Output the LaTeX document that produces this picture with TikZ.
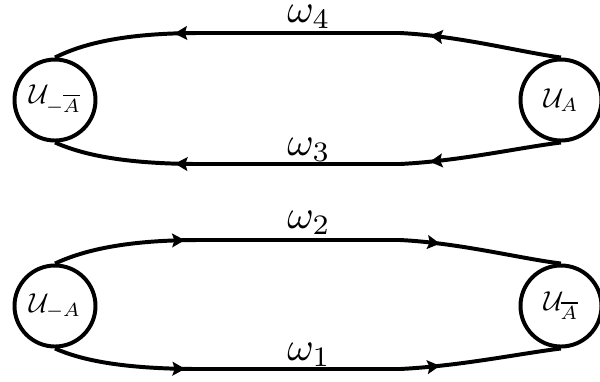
\documentclass[tikz,border=0pt]{standalone}
\usetikzlibrary{arrows.meta,decorations.markings}
\tikzset{
  ring/.style={circle,draw,line width=1.1pt,minimum size=22.5pt,inner sep=0pt},
  tipmark/.tip={Stealth[length=3.5pt,width=3.8pt,inset=0.6pt]},
  flow/.style={line width=1.1pt,postaction={decorate},
    decoration={markings,
      mark=at position 0.26 with {\arrow{tipmark}},
      mark=at position 0.76 with {\arrow{tipmark}}}},
  lbl/.style={inner sep=0pt}
}
\newcommand{\ringtext}[1]{\scalebox{0.76}{$#1$}}
\newcommand{\lbltext}[1]{\scalebox{1.12}{$#1$}}
\begin{document}
\begin{tikzpicture}[x=0.2778pt,y=-0.2778pt]
\useasboundingbox (0,0) rectangle (600,381);
\node[ring] (la) at (55,100) {\ringtext{\mathcal{U}_{-\overline{A}}}};
\node[ring] (ra) at (561,100) {\ringtext{\mathcal{U}_{A}}};
\node[ring] (lb) at (55,306) {\ringtext{\mathcal{U}_{-A}}};
\node[ring] (rb) at (561,306) {\ringtext{\mathcal{U}_{\overline{A}}}};

\draw[flow] (ra.north) .. controls (520,52) and (460,36) .. (400,33) -- (200,33) .. controls (120,33) and (80,45) .. (la.north);
\draw[flow] (ra.south) .. controls (520,147.5) and (460,161) .. (400,164) -- (200,164) .. controls (120,164) and (80,153.5) .. (la.south);
\draw[flow] (lb.north) .. controls (80,252) and (120,240) .. (200,240) -- (400,240) .. controls (460,243) and (520,258.5) .. (rb.north);
\draw[flow] (lb.south) .. controls (80,359.5) and (120,369) .. (200,369) -- (400,369) .. controls (460,366) and (520,353.5) .. (rb.south);

\node[lbl] (w4) at (309,17) {\lbltext{\omega_4}};
\node[lbl] (w3) at (309,150) {\lbltext{\omega_3}};
\node[lbl] (w2) at (309,223) {\lbltext{\omega_2}};
\node[lbl] (w1) at (309,355) {\lbltext{\omega_1}};
\end{tikzpicture}
\end{document}
